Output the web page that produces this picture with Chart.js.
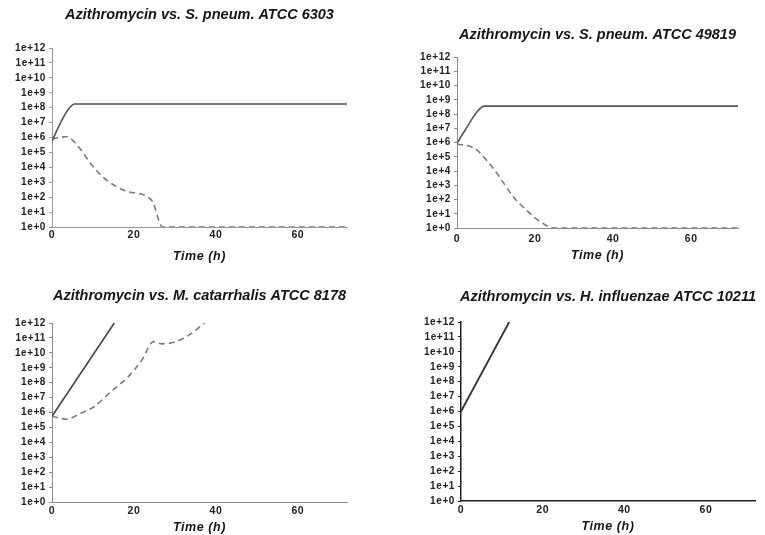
<!DOCTYPE html>
<html>
<head>
<meta charset="utf-8">
<title>Azithromycin time-kill curves</title>
<script src="https://cdn.jsdelivr.net/npm/chart.js@4/dist/chart.umd.min.js"></script>
<style>
  html, body { margin: 0; padding: 0; background: #ffffff; }
  #wrap { position: relative; width: 765px; height: 535px; overflow: hidden; }
  canvas { position: absolute; }
</style>
</head>
<body>
<div id="wrap">
  <canvas id="p1" width="382" height="268" style="left:0px;top:0px"></canvas>
  <canvas id="p2" width="383" height="268" style="left:382px;top:0px"></canvas>
  <canvas id="p3" width="382" height="267" style="left:0px;top:268px"></canvas>
  <canvas id="p4" width="383" height="267" style="left:382px;top:268px"></canvas>
</div>
<script>
// Axis ticks: time in hours, counts as powers of ten (log10 CFU/mL)
const timeTicks = [0, 20, 40, 60];
const logTicks = [0, 1, 2, 3, 4, 5, 6, 7, 8, 9, 10, 11, 12];
const logTickLabels = ['1e+0', '1e+1', '1e+2', '1e+3', '1e+4', '1e+5', '1e+6',
  '1e+7', '1e+8', '1e+9', '1e+10', '1e+11', '1e+12'];

// S. pneumoniae ATCC 6303
const ctrl6303Time = [0, 2, 4, 5.5, 8, 72];
const ctrl6303Log = [5.75, 6.95, 7.9, 8.25, 8.25, 8.25];
const azi6303Time = [0, 3.5, 6.4, 9.7, 13.3, 18.2, 24.3, 27, 72];
const azi6303Log = [5.9, 6.05, 5.4, 4.15, 3.15, 2.4, 1.8, 0, 0];

// S. pneumoniae ATCC 49819
const ctrl49819Time = [0, 2.5, 5, 7, 72];
const ctrl49819Log = [5.95, 7.05, 8.1, 8.55, 8.55];
const azi49819Time = [0, 4.5, 6.8, 10.2, 14.4, 17.8, 21.3, 24.7, 72];
const azi49819Log = [5.9, 5.6, 5.0, 3.85, 2.2, 1.25, 0.45, 0, 0];

// M. catarrhalis ATCC 8178
const ctrl8178Time = [0, 15.2];
const ctrl8178Log = [5.75, 12];
const azi8178Time = [0, 3.6, 7, 10.3, 14.4, 18.6, 21.9, 24.8, 26.9, 30.2, 33.5, 37.2];
const azi8178Log = [5.75, 5.55, 5.95, 6.4, 7.4, 8.4, 9.5, 10.75, 10.6, 10.75, 11.2, 12];

// H. influenzae ATCC 10211
const ctrl10211Time = [0, 11.8];
const ctrl10211Log = [6.0, 12];

const FONT = '"Liberation Sans", Arial, sans-serif';

function points(times, values) {
  return times.map((t, i) => ({ x: t, y: values[i] }));
}

// Draws each panel's heading centred over its plot area
const panelTitle = {
  id: 'panelTitle',
  beforeDraw(chart) {
    chart.ctx.letterSpacing = '0.6px';
  },
  afterDraw(chart, args, opts) {
    const { ctx, chartArea } = chart;
    ctx.save();
    ctx.letterSpacing = '0px';
    ctx.font = 'italic bold 14.5px ' + FONT;
    ctx.fillStyle = '#151515';
    ctx.textAlign = 'center';
    ctx.textBaseline = 'middle';
    ctx.fillText(opts.text, (chartArea.left + chartArea.right) / 2, opts.y);
    ctx.restore();
  }
};

function makePanel(id, cfg) {
  const datasets = cfg.series.map(s => ({
    data: points(s.time, s.values),
    borderColor: s.color,
    borderWidth: s.width,
    borderDash: s.dash || [],
    pointRadius: 0,
    fill: false,
    showLine: true,
    cubicInterpolationMode: 'monotone'
  }));
  new Chart(document.getElementById(id), {
    type: 'scatter',
    data: { datasets },
    plugins: [panelTitle],
    options: {
      responsive: false,
      animation: false,
      events: [],
      layout: { padding: cfg.padding },
      plugins: {
        legend: { display: false },
        tooltip: { enabled: false },
        panelTitle: { text: cfg.title, y: cfg.titleY }
      },
      scales: {
        x: {
          type: 'linear',
          min: 0,
          max: 72,
          afterBuildTicks: sc => { sc.ticks = timeTicks.map(v => ({ value: v })); },
          afterFit: sc => { sc.height = cfg.xHeight; },
          grid: { display: false, drawTicks: false },
          border: { display: true, color: cfg.axisColor, width: cfg.axisWidth, dash: cfg.axisDash },
          ticks: {
            padding: cfg.xTickPad,
            color: '#222',
            font: { family: FONT, size: 10.5, weight: 'bold' },
            maxRotation: 0,
            autoSkip: false
          },
          title: {
            display: true,
            text: 'Time (h)',
            color: '#151515',
            padding: { top: 0, bottom: 0 },
            font: { family: FONT, size: 12.5, weight: 'bold', style: 'italic' }
          }
        },
        y: {
          type: 'linear',
          min: 0,
          max: 12,
          afterBuildTicks: sc => { sc.ticks = logTicks.map(v => ({ value: v })); },
          afterFit: sc => { sc.width = 52; },
          grid: {
            display: true,
            drawOnChartArea: false,
            drawTicks: true,
            tickLength: 3,
            color: cfg.axisColor,
            lineWidth: 1
          },
          border: { display: true, color: cfg.axisColor, width: cfg.axisWidth, dash: cfg.axisDash },
          ticks: {
            padding: 3,
            color: '#222',
            font: { family: FONT, size: 10, weight: 'bold' },
            autoSkip: false,
            callback: (v) => logTickLabels[logTicks.indexOf(v)]
          }
        }
      }
    }
  });
}

const solidGrey = '#555555';
const dashGrey = '#7a7a7a';

makePanel('p1', {
  title: 'Azithromycin vs. S. pneum. ATCC 6303',
  titleY: 15,
  padding: { left: 0, right: 35, top: 48, bottom: 4 },
  xHeight: 37,
  xTickPad: 2,
  axisColor: '#9a9a9a', axisWidth: 1, axisDash: [2, 2],
  series: [
    { time: ctrl6303Time, values: ctrl6303Log, color: solidGrey, width: 1.6 },
    { time: azi6303Time, values: azi6303Log, color: dashGrey, width: 1.6, dash: [6, 4] }
  ]
});

makePanel('p2', {
  title: 'Azithromycin vs. S. pneum. ATCC 49819',
  titleY: 35,
  padding: { left: 23, right: 27, top: 57, bottom: 5 },
  xHeight: 35,
  xTickPad: 4.5,
  axisColor: '#8a8a8a', axisWidth: 1, axisDash: [3, 2],
  series: [
    { time: ctrl49819Time, values: ctrl49819Log, color: solidGrey, width: 1.6 },
    { time: azi49819Time, values: azi49819Log, color: dashGrey, width: 1.6, dash: [6, 4] }
  ]
});

makePanel('p3', {
  title: 'Azithromycin vs. M. catarrhalis ATCC 8178',
  titleY: 28,
  padding: { left: 0, right: 35, top: 55, bottom: 0 },
  xHeight: 33,
  xTickPad: 2.5,
  axisColor: '#8a8a8a', axisWidth: 1, axisDash: [2, 2],
  series: [
    { time: ctrl8178Time, values: ctrl8178Log, color: '#444444', width: 1.6 },
    { time: azi8178Time, values: azi8178Log, color: dashGrey, width: 1.6, dash: [6, 4] }
  ]
});

makePanel('p4', {
  title: 'Azithromycin vs. H. influenzae ATCC 10211',
  titleY: 29,
  padding: { left: 27, right: 10, top: 54, bottom: 1 },
  xHeight: 33,
  xTickPad: 2.7,
  axisColor: '#222222', axisWidth: 1.5, axisDash: [],
  series: [
    { time: ctrl10211Time, values: ctrl10211Log, color: '#333333', width: 1.8 }
  ]
});
</script>
</body>
</html>
